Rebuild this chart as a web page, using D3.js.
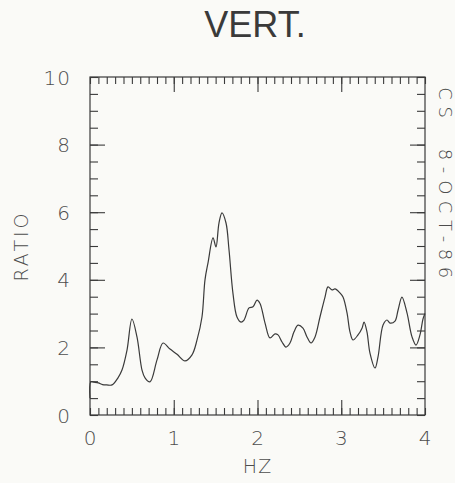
<!DOCTYPE html>
<html><head><meta charset="utf-8">
<script src="https://cdn.jsdelivr.net/npm/d3@7"></script>
<style>
html,body{margin:0;padding:0;background:#fafaf7;}
svg{display:block;}
</style></head>
<body>
<svg id="chart" width="455" height="483"></svg>
<script>
// Data (Hz, ratio)
const freq = [0.00,0.01,0.05,0.10,0.15,0.20,0.263,0.334,0.382,0.442,0.501,0.561,0.621,0.657,0.716,0.80,0.872,0.955,1.039,1.134,1.218,1.278,1.337,1.373,1.409,1.469,1.504,1.540,1.576,1.624,1.660,1.707,1.755,1.803,1.839,1.899,1.946,1.994,2.030,2.090,2.149,2.209,2.245,2.293,2.340,2.388,2.436,2.484,2.543,2.591,2.639,2.687,2.746,2.806,2.842,2.890,2.925,2.985,3.021,3.069,3.104,3.140,3.200,3.248,3.272,3.307,3.343,3.403,3.439,3.499,3.546,3.582,3.642,3.678,3.725,3.785,3.845,3.893,3.940,3.976,4.00];
const ratio = [0.50,0.98,0.97,0.95,0.90,0.89,0.89,1.10,1.33,1.92,2.84,2.31,1.33,1.10,0.98,1.63,2.13,1.95,1.80,1.60,1.78,2.22,2.90,4.00,4.50,5.24,4.97,5.68,5.98,5.68,4.88,3.60,2.90,2.75,2.81,3.17,3.20,3.40,3.30,2.72,2.28,2.40,2.37,2.16,2.01,2.13,2.46,2.66,2.57,2.31,2.13,2.31,2.90,3.49,3.79,3.70,3.73,3.61,3.49,3.02,2.46,2.22,2.37,2.57,2.75,2.46,1.83,1.39,1.72,2.66,2.81,2.72,2.78,3.10,3.49,3.02,2.31,2.07,2.37,2.84,3.00];
const xTicks = [0,1,2,3,4];
const yTicks = [0,2,4,6,8,10];
const title = "VERT.";
const xLabel = "HZ";
const yLabel = "RATIO";
const sideNote = "CS  8-OCT-86";

const svg = d3.select("#chart");
const L = 90, R = 425, T = 77, B = 415;
const x = d3.scaleLinear().domain([0,4]).range([L,R]);
const y = d3.scaleLinear().domain([0,10]).range([B,T]);
const ink = "#3a3a3a";
const txt = "#4d4d4d";
const labelFont = "'DejaVu Sans', sans-serif";

// frame
svg.append("rect").attr("x",L).attr("y",T).attr("width",R-L).attr("height",B-T)
  .attr("fill","none").attr("stroke",ink).attr("stroke-width",1.2);

const xMinor = d3.range(0,41).map(i=>i/10);
const yMinor = d3.range(0,21).map(i=>i/2);

svg.append("g").attr("transform",`translate(0,${B})`)
  .call(d3.axisBottom(x).tickValues(xMinor).tickSizeInner(-7).tickSizeOuter(0).tickFormat(""));
svg.append("g").attr("transform",`translate(0,${T})`)
  .call(d3.axisTop(x).tickValues(xMinor).tickSizeInner(-7).tickSizeOuter(0).tickFormat(""));
svg.append("g").attr("transform",`translate(${L},0)`)
  .call(d3.axisLeft(y).tickValues(yMinor).tickSizeInner(-8).tickSizeOuter(0).tickFormat(""));
svg.append("g").attr("transform",`translate(${R},0)`)
  .call(d3.axisRight(y).tickValues(yMinor).tickSizeInner(-8).tickSizeOuter(0).tickFormat(""));

// major ticks longer
svg.append("g").attr("transform",`translate(0,${B})`)
  .call(d3.axisBottom(x).tickValues(xTicks.slice(1,-1)).tickSizeInner(-15).tickSizeOuter(0).tickFormat(""));
svg.append("g").attr("transform",`translate(0,${T})`)
  .call(d3.axisTop(x).tickValues(xTicks.slice(1,-1)).tickSizeInner(-15).tickSizeOuter(0).tickFormat(""));
svg.append("g").attr("transform",`translate(${L},0)`)
  .call(d3.axisLeft(y).tickValues(yTicks.slice(1,-1)).tickSizeInner(-15).tickSizeOuter(0).tickFormat(""));
svg.append("g").attr("transform",`translate(${R},0)`)
  .call(d3.axisRight(y).tickValues(yTicks.slice(1,-1)).tickSizeInner(-15).tickSizeOuter(0).tickFormat(""));

svg.selectAll(".domain").remove();
svg.selectAll(".tick line").attr("stroke",ink).attr("stroke-width",1.1);

// tick labels
svg.append("g").selectAll("text").data(xTicks).join("text")
  .attr("x",d=>x(d)).attr("y",445)
  .attr("text-anchor","middle")
  .attr("font-family",labelFont).attr("font-weight",200).attr("font-size",20)
  .attr("fill",txt).text(d=>d);
svg.append("g").selectAll("text").data(yTicks).join("text")
  .attr("x",71).attr("y",d=>y(d)+7.5)
  .attr("text-anchor","end")
  .attr("font-family",labelFont).attr("font-weight",200).attr("font-size",20)
  .attr("fill",txt).attr("letter-spacing",1).text(d=>d);

// axis titles
svg.append("text").attr("x",x(2)).attr("y",473).attr("text-anchor","middle")
  .attr("font-family",labelFont).attr("font-weight",200).attr("font-size",19)
  .attr("fill",txt).attr("letter-spacing",1).text(xLabel);
svg.append("text").attr("transform",`translate(28,${(T+B)/2}) rotate(-90)`)
  .attr("text-anchor","middle")
  .attr("font-family",labelFont).attr("font-weight",200).attr("font-size",19)
  .attr("fill",txt).attr("letter-spacing",3).text(yLabel);
svg.append("text").attr("transform",`translate(439,186) rotate(90)`)
  .attr("text-anchor","middle")
  .attr("font-family",labelFont).attr("font-weight",200).attr("font-size",18)
  .attr("fill",txt).attr("letter-spacing",6.5).style("white-space","pre").text(sideNote);

// title
svg.append("text").attr("x",255).attr("y",37).attr("text-anchor","middle")
  .attr("font-family","'Liberation Sans', Arial, sans-serif").attr("font-size",36)
  .attr("fill","#3a3a3a").text(title);

// curve
const pts = freq.map((f,i)=>[f,ratio[i]]);
svg.append("path").datum(pts)
  .attr("fill","none").attr("stroke",ink).attr("stroke-width",1.2)
  .attr("stroke-linejoin","round")
  .attr("d",d3.line().x(d=>x(d[0])).y(d=>y(d[1])).curve(d3.curveCatmullRom.alpha(0.5)));
</script>
</body></html>
